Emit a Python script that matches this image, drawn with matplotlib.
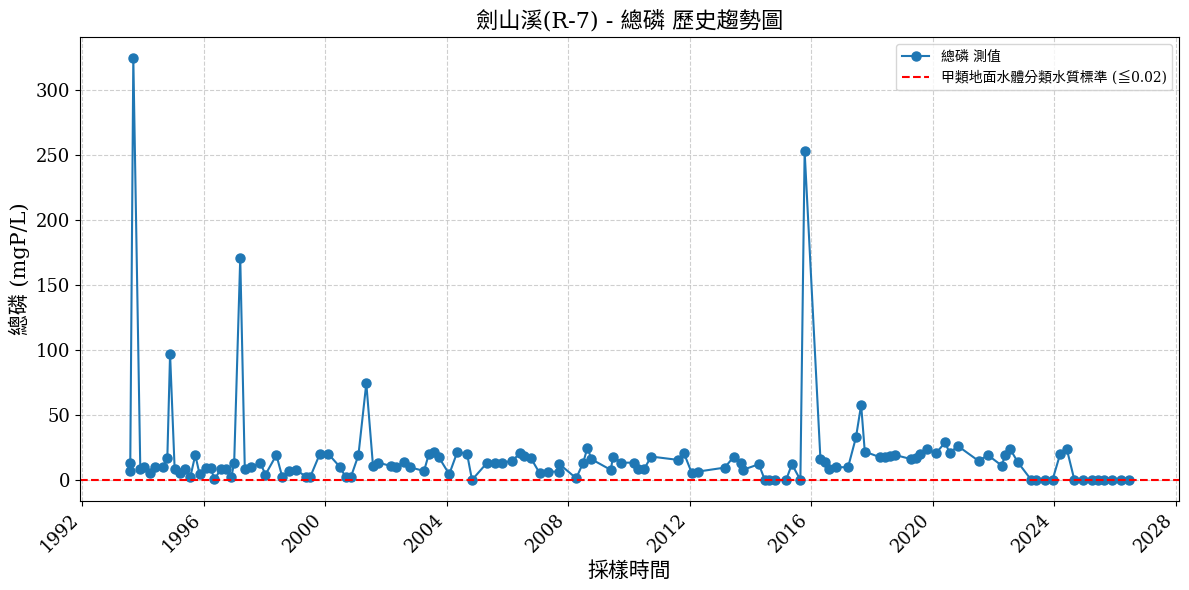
import matplotlib
matplotlib.use("Agg")
import matplotlib.pyplot as plt
from matplotlib.ticker import MultipleLocator, FuncFormatter

plt.rcParams['font.family'] = ['DejaVu Serif', 'Noto Sans CJK TC']
plt.rcParams['axes.unicode_minus'] = False

years = [
    1993.57, 1993.58, 1993.68, 1993.91, 1994.02, 1994.23, 1994.38, 1994.66, 1994.80, 1994.89,
    1995.04, 1995.21, 1995.38, 1995.56, 1995.72, 1995.86, 1996.08, 1996.23, 1996.35, 1996.57,
    1996.74, 1996.91, 1997.00, 1997.20, 1997.35, 1997.57, 1997.86, 1998.03, 1998.39, 1998.58,
    1998.81, 1999.03, 1999.36, 1999.50, 1999.82, 2000.10, 2000.49, 2000.67, 2000.84, 2001.09,
    2001.35, 2001.57, 2001.75, 2002.15, 2002.32, 2002.60, 2002.78, 2003.25, 2003.41, 2003.58,
    2003.74, 2004.08, 2004.35, 2004.67, 2004.83, 2005.31, 2005.58, 2005.81, 2006.16, 2006.41,
    2006.54, 2006.76, 2007.06, 2007.34, 2007.69, 2007.71, 2008.26, 2008.49, 2008.63, 2008.76,
    2009.40, 2009.47, 2009.75, 2010.17, 2010.30, 2010.49, 2010.73, 2011.62, 2011.80, 2012.06,
    2012.26, 2013.15, 2013.45, 2013.70, 2013.74, 2014.27, 2014.47, 2014.62, 2014.80, 2015.17,
    2015.36, 2015.64, 2015.78, 2016.30, 2016.45, 2016.59, 2016.81, 2017.21, 2017.47, 2017.64,
    2017.76, 2018.27, 2018.41, 2018.60, 2018.76, 2019.29, 2019.44, 2019.59, 2019.80, 2020.10,
    2020.41, 2020.55, 2020.82, 2021.51, 2021.81, 2022.27, 2022.38, 2022.55, 2022.80, 2023.24,
    2023.39, 2023.68, 2023.94, 2024.19, 2024.41, 2024.66, 2024.93, 2025.23, 2025.43, 2025.65,
    2025.89, 2026.20, 2026.46,
]
tp_values = [
    7.2, 13.3, 324.6, 8.5, 10.0, 5.6, 10.0, 10.0, 17.2, 96.9,
    8.7, 5.1, 8.2, 2.6, 19.2, 4.6, 9.0, 9.0, 0.5, 8.5,
    8.7, 2.6, 13.1, 170.8, 8.5, 10.0, 13.1, 4.1, 19.2, 2.6,
    6.9, 7.9, 2.6, 2.1, 20.0, 20.0, 9.8, 2.1, 2.1, 19.0,
    74.4, 11.0, 13.3, 10.8, 10.0, 13.6, 9.8, 6.9, 20.0, 21.8,
    17.4, 4.4, 21.8, 19.8, 0.01, 12.8, 13.3, 13.3, 14.6, 20.9,
    18.3, 17.1, 5.1, 6.4, 6.4, 12.1, 1.3, 13.3, 24.8, 16.0,
    7.7, 18.0, 13.3, 13.3, 8.2, 8.2, 18.0, 15.4, 21.0, 5.6,
    6.4, 9.5, 18.0, 13.3, 7.7, 12.1, 0.01, 0.01, 0.01, 0.01,
    12.1, 0.01, 252.8, 16.0, 14.1, 8.2, 9.8, 9.8, 32.8, 57.7,
    21.8, 17.4, 17.4, 18.7, 19.2, 16.0, 16.7, 20.0, 23.6, 20.5,
    29.0, 20.5, 26.2, 14.6, 19.2, 11.0, 19.2, 23.6, 13.6, 0.01,
    0.01, 0.01, 0.01, 19.8, 23.8, 0.01, 0.01, 0.01, 0.01, 0.01,
    0.01, 0.01, 0.01,
]
standard = 0.02

title = '劍山溪(R-7) - 總磷 歷史趨勢圖'
xlabel = '採樣時間'
ylabel = '總磷 (mgP/L)'
series_label = '總磷 測值'
std_label = '甲類地面水體分類水質標準 (≦0.02)'

fig, ax = plt.subplots(figsize=(11.89, 5.90), dpi=100)
fig.subplots_adjust(left=0.0673, right=0.9916, top=0.9373, bottom=0.1508)
ax.plot(years, tp_values, marker='o', color='#1f77b4', linewidth=1.5,
        markersize=6.5, label=series_label)
ax.axhline(standard, color='red', linestyle='--', linewidth=1.5, label=std_label)

ax.xaxis.set_major_locator(MultipleLocator(4))
ax.xaxis.set_major_formatter(FuncFormatter(lambda v, p: f'{int(round(v))}'))
ax.grid(True, linestyle='--', alpha=0.6)
ax.set_title(title, fontsize=16)
ax.set_xlabel(xlabel, fontsize=15)
ax.set_ylabel(ylabel, fontsize=15)
ax.tick_params(axis='both', labelsize=13)
plt.setp(ax.get_xticklabels(), rotation=45, ha='right')
ax.legend(loc='upper right', fontsize=10)
fig.savefig('out.png', dpi=100)
